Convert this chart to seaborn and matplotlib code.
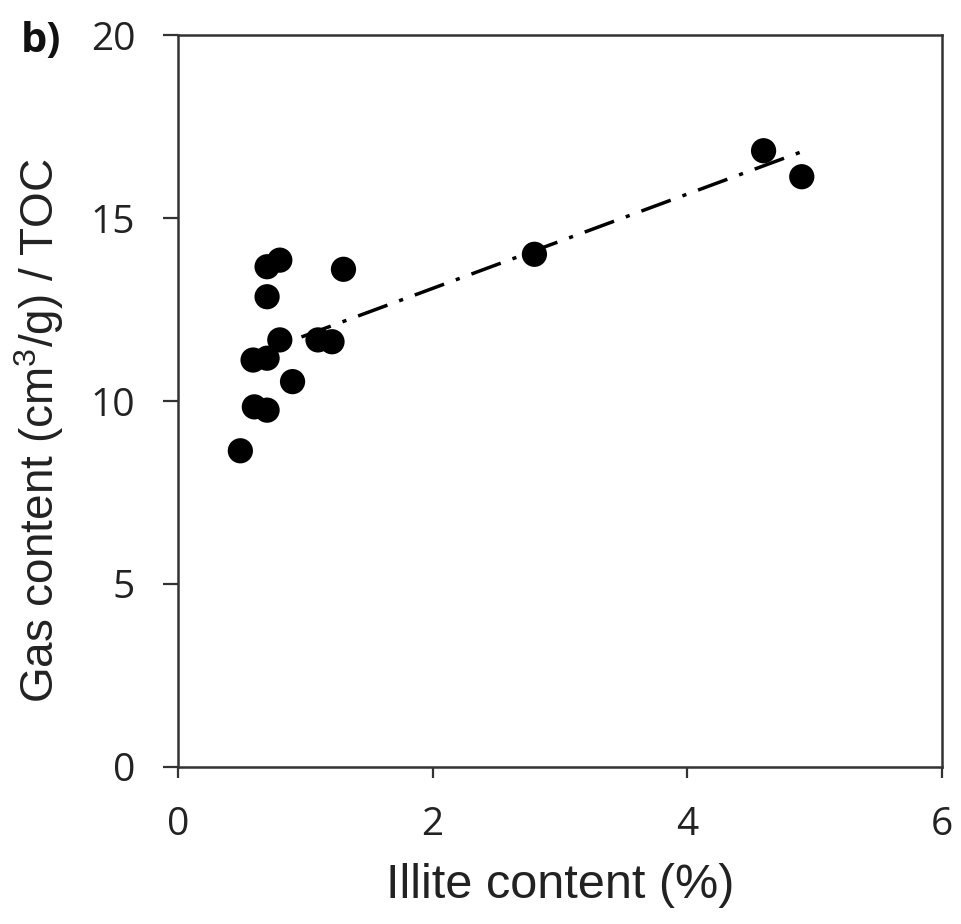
import matplotlib
matplotlib.use("Agg")
import matplotlib.pyplot as plt
import seaborn as sns
import pandas as pd

# values
illite = [0.49, 0.60, 0.70, 0.59, 0.70, 0.90, 0.80, 1.10, 1.21, 0.70,
          0.70, 0.80, 1.30, 2.80, 4.60, 4.90]
gas_toc = [8.64, 9.84, 9.75, 11.12, 11.17, 10.53, 11.67, 11.67, 11.62, 12.85,
           13.67, 13.85, 13.60, 14.01, 16.84, 16.13]

# dash-dot trend line end points
trend_x = [0.97, 4.92]
trend_y = [11.75, 16.84]

x_ticks = [0, 2, 4, 6]
y_ticks = [0, 5, 10, 15, 20]

df = pd.DataFrame({"illite": illite, "gas": gas_toc})

sns.set_style("ticks")
plt.rcParams["mathtext.default"] = "regular"

label_font = ["Liberation Sans Narrow", "Liberation Sans", "DejaVu Sans"]
tick_font = ["Open Sans", "DejaVu Sans"]

fig = plt.figure(figsize=(9.62, 9.24), dpi=100)
ax = fig.add_axes([0.185, 0.170, 0.794, 0.792])

sns.scatterplot(data=df, x="illite", y="gas", ax=ax, color="black",
                s=330, edgecolor="none", zorder=3, legend=False)
ax.plot(trend_x, trend_y, color="black", lw=2.5,
        dashes=(9, 3.6, 1.2, 3.6), zorder=2)

ax.set_xlim(0, 6)
ax.set_ylim(0, 20)
ax.set_xticks(x_ticks)
ax.set_yticks(y_ticks)
ax.set_xticklabels([str(t) for t in x_ticks], family=tick_font, fontsize=28, color="#222222")
ax.set_yticklabels([str(t) for t in y_ticks], family=tick_font, fontsize=28, color="#222222")
ax.tick_params(axis="x", direction="out", length=8, width=1.6, color="#333333", pad=20)
ax.tick_params(axis="y", direction="out", length=10.8, width=1.6, color="#333333", pad=20)

for sp in ax.spines.values():
    sp.set_linewidth(1.8)
    sp.set_color("#333333")

ax.set_xlabel("Illite content (%)", family=label_font, fontsize=35, color="#222222", labelpad=14)
ax.set_ylabel("Gas content (cm$^{3}$/g) / TOC", family=label_font, fontsize=33, color="#222222")
ax.yaxis.set_label_coords(-0.146, 0.46)

fig.text(0.022, 0.944, "b)", family=tick_font, fontweight="bold", fontsize=30, color="#111111")

fig.savefig("out.png", dpi=100)
